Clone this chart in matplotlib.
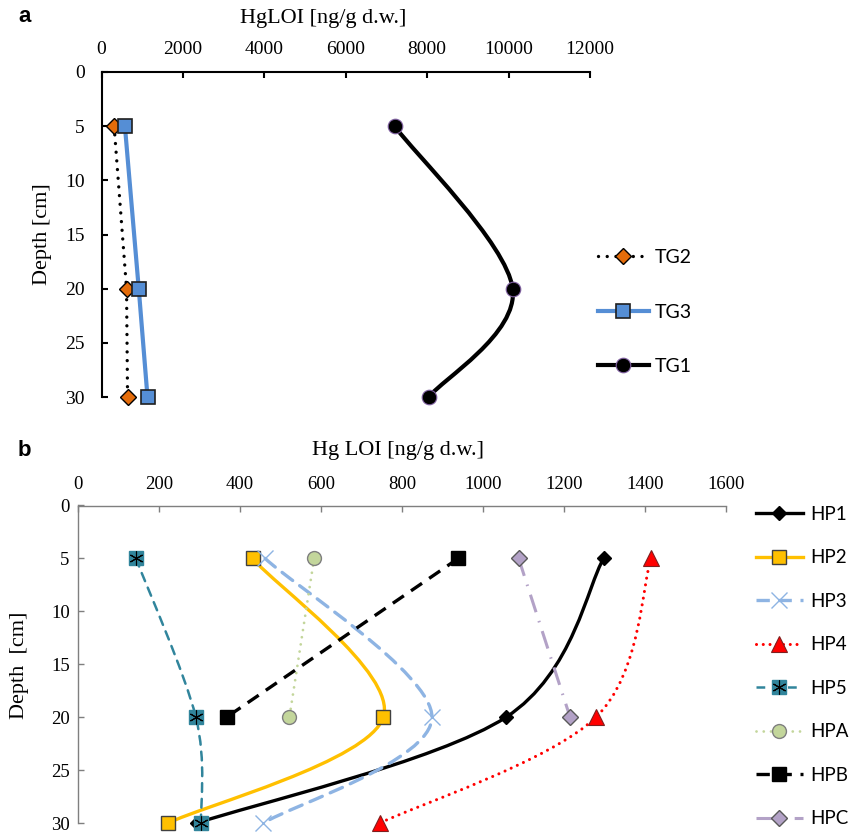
import matplotlib
matplotlib.use('Agg')
import numpy as np
import matplotlib.pyplot as plt
from matplotlib.path import Path
from matplotlib.patches import PathPatch
from matplotlib.lines import Line2D
from matplotlib.legend_handler import HandlerTuple

# panel a data (HgLOI, ng/g d.w.)
depth_a = [5, 20, 30]
tg2 = [310, 615, 640]
tg3 = [575, 915, 1130]
tg1 = [7200, 10100, 8040]

# panel b data
depth_b = [5, 20, 30]
depth_b2 = [5, 20]
hp1 = [1298, 1057, 295]
hp2 = [431, 754, 223]
hp3 = [462, 874, 458]
hp4 = [1415, 1279, 746]
hp5 = [143, 291, 304]
hpa = [583, 522]
hpb = [939, 367]
hpc = [1088, 1215]

serif = 'Liberation Serif'
W, H = 856, 835
fig = plt.figure(figsize=(W / 100, H / 100), dpi=100)


def px_axes(l, t, r, b):
    return fig.add_axes([l / W, 1 - b / H, (r - l) / W, (b - t) / H])


def smooth_path(xs, ys):
    # Excel style smoothed line: cubic bezier through the points
    pts = np.column_stack([xs, ys]).astype(float)
    n = len(pts)
    verts = [pts[0]]
    codes = [Path.MOVETO]
    for i in range(n - 1):
        p0 = pts[max(i - 1, 0)]
        p1 = pts[i]
        p2 = pts[i + 1]
        p3 = pts[min(i + 2, n - 1)]
        verts += [p1 + (p2 - p0) / 6, p2 - (p3 - p1) / 6, p2]
        codes += [Path.CURVE4] * 3
    return Path(verts, codes)


def draw_smooth(ax, xs, ys, color, lw, ls):
    ax.add_patch(PathPatch(smooth_path(xs, ys), fill=False, edgecolor=color,
                           lw=lw, ls=ls, capstyle='round', clip_on=False))


def style_axis(ax, xmax, step, spine_color, spine_w, labsize, xpad, ypad):
    ax.set_xlim(0, xmax)
    ax.set_ylim(30, 0)
    ax.set_xticks(range(0, xmax + 1, step))
    ax.set_yticks(range(0, 31, 5))
    ax.xaxis.tick_top()
    ax.spines['right'].set_visible(False)
    ax.spines['bottom'].set_visible(False)
    for s in ['top', 'left']:
        ax.spines[s].set_color(spine_color)
        ax.spines[s].set_linewidth(spine_w)
    ax.tick_params(axis='x', direction='in', length=4.5, width=spine_w,
                   color=spine_color, pad=xpad, labelsize=labsize)
    ax.tick_params(axis='y', direction='in', length=4, width=spine_w,
                   color=spine_color, pad=ypad, labelsize=labsize)
    for lab in ax.get_xticklabels() + ax.get_yticklabels():
        lab.set_fontfamily(serif)


# ---------------- panel a ----------------
ax_a = px_axes(101.5, 72, 590, 397)
style_axis(ax_a, 12000, 2000, 'black', 1.5, 14, 10, 12)

ax_a.plot(tg2, depth_a, color='black', lw=2.4, ls=(0, (0.01, 2.6)),
          dash_capstyle='round', marker='D', ms=8.5, mfc='#E46C0A', mec='black',
          mew=1, clip_on=False)
ax_a.plot(tg3, depth_a, color='#558ED5', lw=3, marker='s', ms=10,
          mfc='#558ED5', mec='#1F1F1F', mew=1.2, clip_on=False)
draw_smooth(ax_a, tg1, depth_a, 'black', 3, '-')
ax_a.plot(tg1, depth_a, ls='none', marker='o', ms=10.5, mfc='black',
          mec='#7F5FA0', mew=0.8, clip_on=False)

fig.text(323 / W, 1 - 18 / H, 'HgLOI [ng/g d.w.]', family=serif, fontsize=16,
         ha='center', va='center')
fig.text(42 / W, 1 - 234 / H, 'Depth [cm]', family=serif, fontsize=16,
         ha='center', va='center', rotation=90)
fig.text(18 / W, 1 - 16 / H, 'a', family='Liberation Sans', weight='bold',
         fontsize=16, ha='left', va='center')

leg_a = [
    Line2D([], [], color='black', lw=2.4, ls=(0, (0.01, 2.6)), dash_capstyle='round',
           marker='D', ms=8.5, mfc='#E46C0A', mec='black', mew=1),
    Line2D([], [], color='#558ED5', lw=3, marker='s', ms=10, mfc='#558ED5',
           mec='#1F1F1F', mew=1.2),
    Line2D([], [], color='black', lw=3, marker='o', ms=10.5, mfc='black',
           mec='#7F5FA0', mew=0.8),
]
fig.legend(leg_a, ['TG2', 'TG3', 'TG1'], loc='upper left',
           bbox_to_anchor=(598 / W, 1 - 249 / H), frameon=False, numpoints=1,
           prop={'family': 'Lato', 'size': 14}, handlelength=2.6,
           handletextpad=0.3, labelspacing=1.93, borderpad=0, borderaxespad=0)

# ---------------- panel b ----------------
ax_b = px_axes(78, 505.5, 726, 823)
style_axis(ax_b, 1600, 200, '#7F7F7F', 1, 13.5, 9, 6)

draw_smooth(ax_b, hp1, depth_b, 'black', 2.4, '-')
draw_smooth(ax_b, hp2, depth_b, '#FFC000', 2.4, '-')
draw_smooth(ax_b, hp3, depth_b, '#8EB4E3', 2.4, (0, (4, 2.6)))
draw_smooth(ax_b, hp4, depth_b, '#FF0000', 2.2, (0, (0.01, 2.2)))
draw_smooth(ax_b, hp5, depth_b, '#31859C', 1.8, (0, (3.5, 2.8)))
ax_b.plot(hpa, depth_b2, color='#C3D69B', lw=2, ls=(0, (0.01, 2.6)),
          dash_capstyle='round', clip_on=False)
ax_b.plot(hpb, depth_b2, color='black', lw=2.4, ls=(0, (4, 2.6)), clip_on=False)
ax_b.plot(hpc, depth_b2, color='#B3A2C7', lw=2.2, ls=(0, (6, 3, 0.5, 3)),
          clip_on=False)

mk = {
    'HP1': dict(marker='D', ms=7, mfc='black', mec='black', mew=1),
    'HP2': dict(marker='s', ms=10, mfc='#FFC000', mec='#404040', mew=1),
    'HP3': dict(marker='x', ms=11, mfc='#8EB4E3', mec='#8EB4E3', mew=1),
    'HP4': dict(marker='^', ms=11, mfc='#FF0000', mec='#7F1F1F', mew=0.8),
    'HP5': dict(marker='s', ms=10, mfc='#31859C', mec='#31859C', mew=1),
    'HP5x': dict(marker=(6, 2, 0), ms=10, mfc='black', mec='black', mew=0.8),
    'HPA': dict(marker='o', ms=10, mfc='#C3D69B', mec='#7F7F7F', mew=1),
    'HPB': dict(marker='s', ms=10, mfc='black', mec='black', mew=1),
    'HPC': dict(marker='D', ms=8, mfc='#B3A2C7', mec='#595959', mew=1),
}
ax_b.plot(hp1, depth_b, ls='none', clip_on=False, **mk['HP1'])
ax_b.plot(hp2, depth_b, ls='none', clip_on=False, **mk['HP2'])
ax_b.plot(hp3, depth_b, ls='none', clip_on=False, **mk['HP3'])
ax_b.plot(hp4, depth_b, ls='none', clip_on=False, **mk['HP4'])
ax_b.plot(hp5, depth_b, ls='none', clip_on=False, **mk['HP5'])
ax_b.plot(hp5, depth_b, ls='none', clip_on=False, **mk['HP5x'])
ax_b.plot(hpa, depth_b2, ls='none', clip_on=False, **mk['HPA'])
ax_b.plot(hpb, depth_b2, ls='none', clip_on=False, **mk['HPB'])
ax_b.plot(hpc, depth_b2, ls='none', clip_on=False, **mk['HPC'])

fig.text(398 / W, 1 - 450 / H, 'Hg LOI [ng/g d.w.]', family=serif, fontsize=16,
         ha='center', va='center')
fig.text(20 / W, 1 - 665 / H, 'Depth  [cm]', family=serif, fontsize=16,
         ha='center', va='center', rotation=90)
fig.text(18 / W, 1 - 450 / H, 'b', family='Liberation Sans', weight='bold',
         fontsize=16, ha='left', va='center')

leg_b = [
    Line2D([], [], color='black', lw=2.4, **mk['HP1']),
    Line2D([], [], color='#FFC000', lw=2.4, **mk['HP2']),
    Line2D([], [], color='#8EB4E3', lw=2.4, ls=(0, (4, 2.6)), **mk['HP3']),
    Line2D([], [], color='#FF0000', lw=2.2, ls=(0, (0.01, 2.2)),
           dash_capstyle='round', **mk['HP4']),
    (Line2D([], [], color='#31859C', lw=1.8, ls=(0, (3.5, 2.8)), **mk['HP5']),
     Line2D([], [], ls='none', **mk['HP5x'])),
    Line2D([], [], color='#C3D69B', lw=2, ls=(0, (0.01, 2.6)),
           dash_capstyle='round', **mk['HPA']),
    Line2D([], [], color='black', lw=2.4, ls=(0, (4, 2.6)), **mk['HPB']),
    Line2D([], [], color='#B3A2C7', lw=2.2, ls=(0, (6, 3, 0.5, 3)), **mk['HPC']),
]
fig.legend(leg_b, ['HP1', 'HP2', 'HP3', 'HP4', 'HP5', 'HPA', 'HPB', 'HPC'],
           loc='upper left', bbox_to_anchor=(756 / W, 1 - 506 / H),
           frameon=False, numpoints=1, prop={'family': 'Lato', 'size': 13.5},
           handlelength=2.5, handletextpad=0.4, labelspacing=1.41, borderpad=0,
           borderaxespad=0, handler_map={tuple: HandlerTuple(ndivide=1)})

fig.savefig('out.png', dpi=100)
